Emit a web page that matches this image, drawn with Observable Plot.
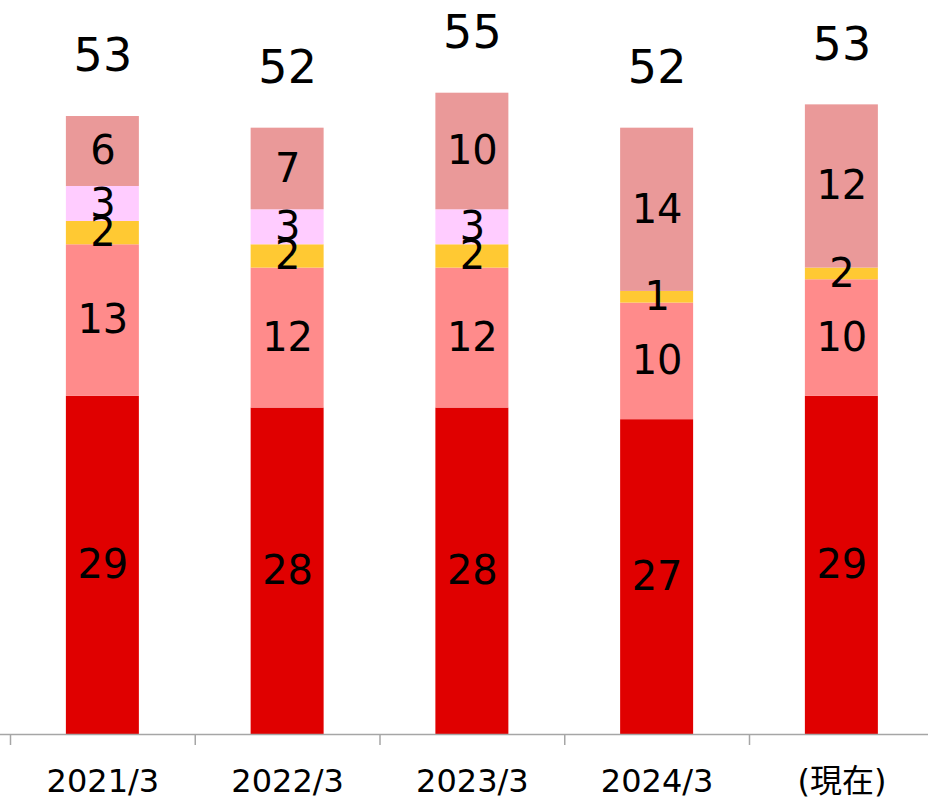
<!DOCTYPE html>
<html><head><meta charset="utf-8">
<script src="https://cdn.jsdelivr.net/npm/d3@7"></script>
<script src="https://cdn.jsdelivr.net/npm/@observablehq/plot@0.6"></script>
<style>body{margin:0;background:#fff}</style>
</head><body><div id="chart"></div>
<script>
const categories = ["2021/3", "2022/3", "2023/3", "2024/3", "(現在)"];
const seriesNames = ["s1", "s2", "s3", "s4", "s5"]; // bottom to top
// bar heights as drawn in the picture
const s1 = [29, 28, 28, 27, 29];
const s2 = [13, 12, 12, 10, 10];
const s3 = [2, 2, 2, 1, 1];
const s4 = [3, 3, 3, 0, 0];
const s5 = [6, 7, 10, 14, 14];
// labels as printed in the picture
const s1Labels = [29, 28, 28, 27, 29];
const s2Labels = [13, 12, 12, 10, 10];
const s3Labels = [2, 2, 2, 1, 2];
const s4Labels = [3, 3, 3, 0, 0];
const s5Labels = [6, 7, 10, 14, 12];
const totals = [53, 52, 55, 52, 53];
const colors = ["#E00000", "#FF8B8B", "#FFC933", "#FFCCFF", "#EA9999"];

const seriesValues = [s1, s2, s3, s4, s5];
const seriesLabels = [s1Labels, s2Labels, s3Labels, s4Labels, s5Labels];
const data = [];
seriesValues.forEach((vals, si) => vals.forEach((v, ci) => {
  if (v > 0) data.push({cat: categories[ci], series: seriesNames[si], value: v, label: seriesLabels[si][ci]});
}));
const barTops = categories.map((c, i) => seriesValues.reduce((s, vals) => s + vals[i], 0));
const totalData = categories.map((c, i) => ({cat: c, total: totals[i], top: barTops[i]}));

const font = '"DejaVu Sans", "Noto Sans CJK JP", sans-serif';
const xRange = [10, 933.75];
const step = (xRange[1] - xRange[0]) / categories.length;

const chart = Plot.plot({
  width: 928,
  height: 804,
  marginTop: 0, marginLeft: 0, marginRight: 0, marginBottom: 70,
  style: {fontFamily: font, background: "#fff", overflow: "visible"},
  x: {domain: categories, range: xRange, paddingInner: 0.6049, paddingOuter: 0.30245, round: false, axis: null},
  y: {domain: [0, 55], range: [734, 92.7], axis: null},
  color: {domain: seriesNames, range: colors},
  marks: [
    Plot.barY(data, {x: "cat", y: "value", z: "series", fill: "series", order: seriesNames}),
    Plot.text(data, Plot.stackY({x: "cat", y: "value", z: "series", order: seriesNames, text: d => String(d.label), fontSize: 40, fill: "#000"})),
    Plot.text(totalData, {x: "cat", y: "top", text: d => String(d.total), dy: -60, fontSize: 46, fill: "#000"}),
    Plot.ruleY([0], {stroke: "#A6A6A6", strokeWidth: 1.5}),
    Plot.ruleX(categories, {x: d => d, y1: 0, y2: 0, insetBottom: -11, dx: -step / 2, stroke: "#A6A6A6", strokeWidth: 1.5}),
    Plot.axisX({tickSize: 0, tickPadding: 35, fontSize: 32, fill: "#000", fontFamily: font, label: null})
  ]
});
document.getElementById("chart").appendChild(chart);
</script>
</body></html>
